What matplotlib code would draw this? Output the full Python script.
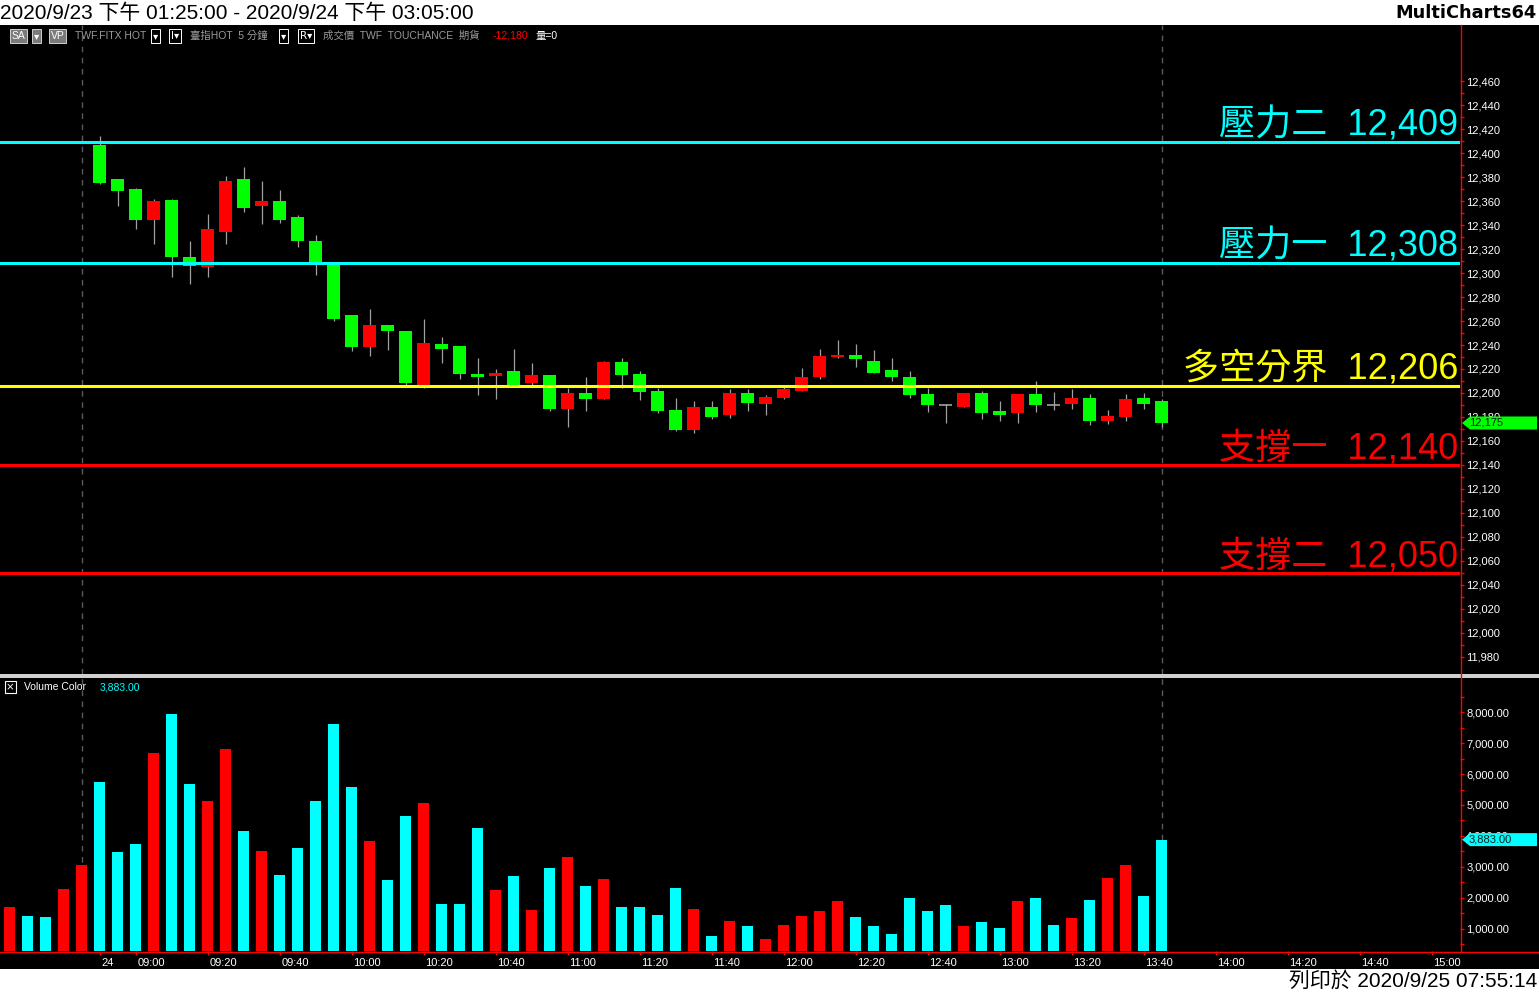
"""
TX futures 5-minute chart with support / resistance levels and volume
"""
import numpy as np
import matplotlib.pyplot as plt
import matplotlib.transforms as mtransforms
from matplotlib.patches import Rectangle, Polygon
from matplotlib.lines import Line2D

plt.rcParams['font.family'] = ['Liberation Sans', 'Noto Sans CJK TC', 'DejaVu Sans']

# %%
# Data
# last bars of the 9/23 session: only their volume is inside the view
prev_volume = [1710, 1419, 1387, 2290, 3065]
prev_up = [True, False, False, True, True]

# 9/24 five minute bars, 08:50 ... 13:45
opens = [12407, 12378, 12370, 12344, 12361, 12313, 12305, 12334, 12378, 12356,
         12360, 12347, 12327, 12308, 12265, 12238, 12257, 12252, 12206, 12241,
         12239, 12216, 12214, 12218, 12208, 12215, 12187, 12200, 12195, 12226,
         12216, 12202, 12186, 12169, 12188, 12182, 12200, 12191, 12196, 12202,
         12213, 12230, 12232, 12227, 12219, 12213, 12199, 12190, 12188, 12200,
         12185, 12183, 12199, 12190, 12191, 12196, 12177, 12180, 12196, 12193]
highs = [12414, 12378, 12371, 12362, 12362, 12327, 12349, 12381, 12388, 12377,
         12369, 12348, 12332, 12308, 12265, 12270, 12257, 12252, 12262, 12247,
         12239, 12229, 12220, 12237, 12225, 12215, 12204, 12213, 12227, 12229,
         12218, 12204, 12196, 12193, 12193, 12203, 12203, 12198, 12205, 12221,
         12237, 12244, 12241, 12236, 12229, 12218, 12204, 12191, 12200, 12202,
         12193, 12199, 12210, 12201, 12203, 12199, 12186, 12199, 12200, 12195]
lows = [12374, 12356, 12337, 12324, 12297, 12291, 12297, 12324, 12351, 12341,
        12342, 12322, 12298, 12260, 12235, 12231, 12236, 12207, 12204, 12225,
        12212, 12198, 12195, 12205, 12207, 12185, 12172, 12185, 12195, 12204,
        12194, 12183, 12168, 12167, 12178, 12179, 12185, 12182, 12195, 12202,
        12212, 12229, 12222, 12217, 12210, 12196, 12184, 12175, 12188, 12178,
        12177, 12175, 12184, 12186, 12187, 12173, 12174, 12177, 12187, 12172]
closes = [12375, 12368, 12344, 12360, 12313, 12306, 12337, 12377, 12354, 12360,
          12344, 12327, 12308, 12262, 12238, 12257, 12252, 12208, 12242, 12237,
          12216, 12213, 12217, 12206, 12215, 12187, 12200, 12195, 12226, 12215,
          12201, 12185, 12169, 12188, 12180, 12200, 12192, 12197, 12203, 12213,
          12231, 12232, 12228, 12217, 12213, 12198, 12190, 12190, 12200, 12183,
          12182, 12199, 12190, 12190, 12196, 12177, 12181, 12195, 12191, 12175]
volume = [5742, 3484, 3742, 6677, 7935, 5677, 5129, 6806, 4161, 3516,
          2742, 3613, 5129, 7613, 5581, 3839, 2581, 4645, 5065, 1806,
          1806, 4258, 2258, 2710, 1613, 2968, 3323, 2387, 2613, 1710,
          1710, 1452, 2323, 1645, 774, 1258, 1097, 677, 1129, 1419,
          1581, 1903, 1387, 1097, 839, 2000, 1581, 1774, 1097, 1226,
          1032, 1903, 2000, 1129, 1355, 1935, 2645, 3065, 2065, 3883]

levels = [12409, 12308, 12206, 12140, 12050]
level_names = ['壓力二', '壓力一', '多空分界', '支撐一', '支撐二']
level_colors = ['#00ffff', '#00ffff', '#ffff00', '#ff0000', '#ff0000']

tick_times = ['08:50', '09:00', '09:20', '09:40', '10:00', '10:20', '10:40',
              '11:00', '11:20', '11:40', '12:00', '12:20', '12:40', '13:00',
              '13:20', '13:40', '14:00', '14:20', '14:40', '15:00']
tick_labels = ['24'] + tick_times[1:]
session_ends = [-1, 59]  # bar index of the 13:45 closing bar of each day

price_ticks = np.arange(11980, 12461, 20)
volume_ticks = np.arange(1000, 8001, 1000)

RED, GREEN, CYAN = '#ff0000', '#00ff00', '#00ffff'

# %%
# Figure layout in pixels
W, H = 1539, 992
fig = plt.figure(figsize=(W / 100, H / 100), dpi=100, facecolor='white')


def fx(px):
    return px / W


def fy(py):
    return 1 - py / H


fig.patches.append(Rectangle((0, fy(969)), 1, fy(25) - fy(969), transform=fig.transFigure,
                             fc='black', ec='none', zorder=-5))
fig.patches.append(Rectangle((0, fy(678)), 1, fy(674) - fy(678), transform=fig.transFigure,
                             fc='#d0d0d0', ec='none', zorder=5))

ax = fig.add_axes([0, fy(674), fx(1460), fy(25) - fy(674)])
axv = fig.add_axes([0, fy(951), fx(1460), fy(678) - fy(951)])
for a in (ax, axv):
    a.set_facecolor('black')
    for s in a.spines.values():
        s.set_visible(False)
    a.set_xlim(-5.53, 75.58)

o, h, l, c = map(np.array, (opens, highs, lows, closes))
x = np.arange(len(o))
up = c > o
doji = c == o

# %%
# Candles
ax.vlines(x, l, h, color='#a0a0a0', lw=0.9, zorder=3)
body_col = np.where(up, RED, GREEN)
ax.bar(x[~doji], np.abs(c - o)[~doji], bottom=np.minimum(o, c)[~doji], width=0.72,
       color=body_col[~doji], lw=0, zorder=4)
ax.hlines(c[doji], x[doji] - 0.36, x[doji] + 0.36, color='#a0a0a0', lw=1.2, zorder=4)

for xs in session_ends:
    for a in (ax, axv):
        a.axvline(xs, color='#5a5a5a', lw=1, dashes=(4, 4), zorder=1)

for lev, name, col in zip(levels, level_names, level_colors):
    ax.axhline(lev, color=col, lw=2.2, zorder=5)
    ax.annotate(f'{name}  {lev:,}', xy=(1, lev), xycoords=('axes fraction', 'data'),
                xytext=(-1.5, 5), textcoords='offset points', ha='right', va='baseline',
                fontsize=26, color=col, zorder=6)

ax.set_ylim(11965.8, 12506.7)
ax.yaxis.tick_right()
ax.set_yticks(price_ticks, [f'{v:,}' for v in price_ticks])
ax.set_yticks(price_ticks[:-1] + 10, minor=True)
ax.tick_params(axis='y', which='both', color=RED, length=3, width=1, pad=1.5,
               labelcolor='white', labelsize=8)
ax.tick_params(axis='x', bottom=False, labelbottom=False)

# %%
# Volume
vol_all = prev_volume + volume
x_all = np.arange(-len(prev_volume), len(volume))
vol_col = [RED if u else CYAN for u in prev_up] + [RED if u else CYAN for u in up]
axv.bar(x_all, vol_all, width=0.61, color=vol_col, lw=0, zorder=3)
axv.set_ylim(290, 9097)
axv.yaxis.tick_right()
axv.set_yticks(volume_ticks, [f'{v:,.2f}' for v in volume_ticks])
axv.set_yticks(np.arange(500, 8600, 1000), minor=True)
axv.tick_params(axis='y', which='both', color=RED, length=3, width=1, pad=1.5,
                labelcolor='white', labelsize=8)

tick_pos = [(int(t[:2]) * 60 + int(t[3:]) - (8 * 60 + 50)) / 5 for t in tick_times]
axv.set_xticks(tick_pos, tick_labels)
axv.tick_params(axis='x', color=RED, length=3, width=1, pad=2, labelcolor='white', labelsize=8)
shift = mtransforms.ScaledTranslation(2 / 100, 0, fig.dpi_scale_trans)
for lbl in axv.get_xticklabels():
    lbl.set_ha('left')
    lbl.set_transform(lbl.get_transform() + shift)

# axis lines
fig.add_artist(Line2D([fx(1460.5)] * 2, [fy(25), fy(951)], color=RED, lw=1, zorder=6))
fig.add_artist(Line2D([0, 1], [fy(951.5)] * 2, color=RED, lw=1, zorder=6))

# %%
# Last value tags on the axes
def value_tag(axis, value, text, color, px_half=6.5):
    tr = mtransforms.blended_transform_factory(fig.transFigure, axis.transData)
    y0, y1 = axis.get_ylim()
    bb = axis.get_position()
    dh = px_half * (y1 - y0) / (bb.height * H)
    pts = [(fx(1462), value), (fx(1470), value + dh), (fx(1537), value + dh),
           (fx(1537), value - dh), (fx(1470), value - dh)]
    fig.patches.append(Polygon(pts, closed=True, transform=tr, fc=color, ec='none', zorder=7))
    fig.text(fx(1469), value, text, transform=tr, ha='left', va='center', fontsize=8,
             color='#1a1a1a', zorder=8)


value_tag(ax, closes[-1], f'{closes[-1]:,}', GREEN)
value_tag(axv, volume[-1], f'{volume[-1]:,.2f}', CYAN)

# %%
# Header, info bars and footer
fig.text(fx(0), fy(13), '2020/9/23 下午 01:25:00 - 2020/9/24 下午 03:05:00',
         fontsize=15, va='center', ha='left', color='black')
fig.text(fx(1537), fy(13), 'MultiCharts64', fontsize=12.8, fontweight='bold',
         family='DejaVu Sans', va='center', ha='right', color='black')
fig.text(fx(1537), fy(981), '列印於 2020/9/25 07:55:14', fontsize=15,
         va='center', ha='right', color='black')

grey = '#9a9a9a'
box_grey = dict(boxstyle='square,pad=0.15', fc='#7a7a7a', ec='#d0d0d0', lw=0.7)
box_black = dict(boxstyle='square,pad=0.15', fc='black', ec='white', lw=0.7)
info_y = fy(36)
fig.text(fx(12), info_y, 'SA', fontsize=7.5, color='white', va='center', bbox=box_grey)
fig.text(fx(34), info_y, '▾', fontsize=7.5, color='white', va='center',
         family='DejaVu Sans', bbox=box_grey)
fig.text(fx(51), info_y, 'VP', fontsize=7.5, color='white', va='center', bbox=box_grey)
fig.text(fx(75), info_y, 'TWF.FITX HOT', fontsize=7.5, color=grey, va='center')
fig.text(fx(153), info_y, '▾', fontsize=7.5, color='white', va='center',
         family='DejaVu Sans', bbox=box_black)
fig.text(fx(171), info_y, 'I▾', fontsize=7.5, color='white', va='center',
         family='DejaVu Sans', bbox=box_black)
fig.text(fx(190), info_y, '臺指HOT  5 分鐘', fontsize=7.5, color=grey, va='center')
fig.text(fx(281), info_y, '▾', fontsize=7.5, color='white', va='center',
         family='DejaVu Sans', bbox=box_black)
fig.text(fx(300), info_y, 'R▾', fontsize=7.5, color='white', va='center',
         family='DejaVu Sans', bbox=box_black)
fig.text(fx(323), info_y, '成交價  TWF  TOUCHANCE  期貨', fontsize=7.5, color=grey, va='center')
fig.text(fx(493), info_y, '-12,180', fontsize=7.5, color=RED, va='center')
fig.text(fx(536), info_y, '量=0', fontsize=7.5, color='white', va='center')

fig.text(fx(6), fy(687), '×', fontsize=7.5, color='white', va='center', family='DejaVu Sans',
         bbox=dict(boxstyle='square,pad=0.1', fc='black', ec='white', lw=0.8))
fig.text(fx(24), fy(687), 'Volume Color', fontsize=7.5, color='white', va='center')
fig.text(fx(100), fy(687), f'{volume[-1]:,.2f}', fontsize=7.5, color=CYAN, va='center')

fig.savefig('out.png', dpi=100, facecolor='white')
